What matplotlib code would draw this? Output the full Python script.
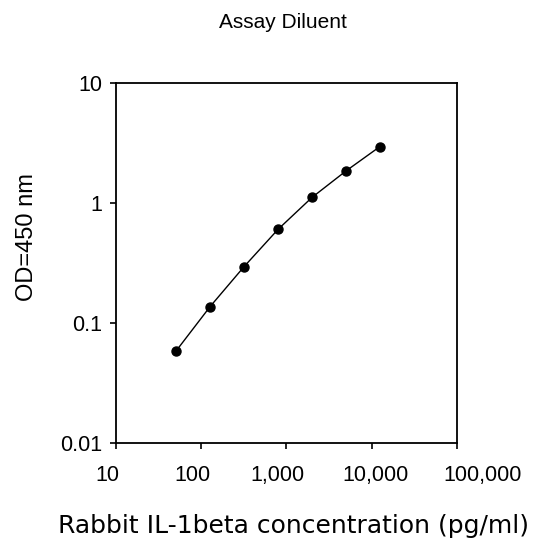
import matplotlib
matplotlib.use("Agg")
import matplotlib.pyplot as plt
from matplotlib.ticker import FixedLocator, FixedFormatter, NullLocator
from matplotlib.transforms import ScaledTranslation

concentration = [51.2, 128, 320, 800, 2000, 5000, 12500]
od450 = [0.059, 0.138, 0.297, 0.607, 1.12, 1.86, 2.97]

x_ticks = [10, 100, 1000, 10000, 100000]
x_tick_labels = ["10", "100", "1,000", "10,000", "100,000"]
y_ticks = [0.01, 0.1, 1, 10]
y_tick_labels = ["0.01", "0.1", "1", "10"]

title = "Assay Diluent"
xlabel = "Rabbit IL-1beta concentration (pg/ml)"
ylabel = "OD=450 nm"

plt.rcParams['font.family'] = ['Liberation Sans', 'DejaVu Sans']

fig = plt.figure(figsize=(5.35, 5.38), dpi=100)
ax = fig.add_axes([115.7/535, 1-443.3/538, (457-115.7)/535, (443.3-83.3)/538])

ax.plot(concentration, od450, color='black', lw=1.0, marker='o', markersize=6.5,
        markerfacecolor='black', markeredgecolor='black')

ax.set_xscale('log')
ax.set_yscale('log')
ax.set_xlim(10, 100000)
ax.set_ylim(0.01, 10)

ax.xaxis.set_major_locator(FixedLocator(x_ticks))
ax.xaxis.set_major_formatter(FixedFormatter(x_tick_labels))
ax.xaxis.set_minor_locator(NullLocator())
ax.yaxis.set_major_locator(FixedLocator(y_ticks))
ax.yaxis.set_major_formatter(FixedFormatter(y_tick_labels))
ax.yaxis.set_minor_locator(NullLocator())

ax.tick_params(axis='both', which='major', direction='out', length=4, width=1.2,
               labelsize=15.5, colors='black')
ax.tick_params(axis='x', pad=11.5)
ax.tick_params(axis='y', pad=5.5)
for s in ax.spines.values():
    s.set_linewidth(1.3)
    s.set_color('black')

# the reference's x tick labels are spread a little wider than their ticks
x_label_shift_px = [-8, -9, -8.7, 3.4, 25.8]
for tick, dx in zip(ax.xaxis.get_major_ticks(), x_label_shift_px):
    lab = tick.label1
    lab.set_transform(lab.get_transform() + ScaledTranslation(dx / 100, 0, fig.dpi_scale_trans))

ax.text(0.522, -0.2297, xlabel, transform=ax.transAxes, ha='center', va='center',
        fontsize=18, family='DejaVu Sans')
ax.text(-0.26, 0.574, ylabel, transform=ax.transAxes, ha='center', va='center',
        rotation=90, fontsize=17)
ax.text(0.489, 1.169, title, transform=ax.transAxes, ha='center', va='center', fontsize=15)

fig.savefig("out.png", dpi=100)
